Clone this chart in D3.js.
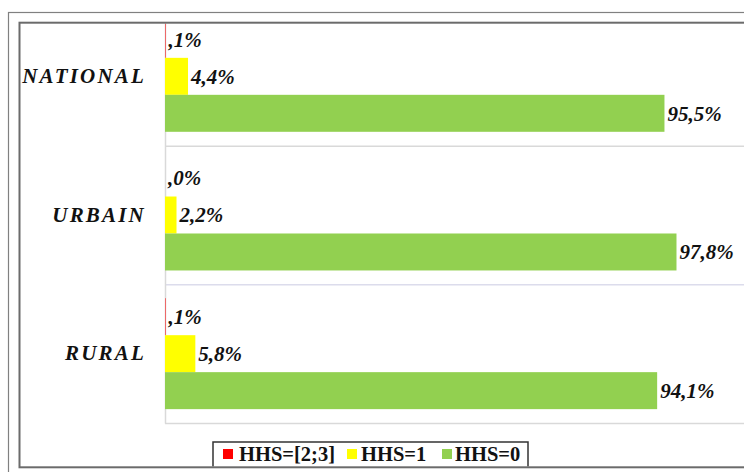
<!DOCTYPE html>
<html>
<head>
<meta charset="utf-8">
<script src="https://cdn.jsdelivr.net/npm/d3@7"></script>
<style>
  html, body { margin: 0; padding: 0; background: #fff; }
  svg { display: block; }
</style>
</head>
<body>
<svg id="chart" width="744" height="472"></svg>
<script>
// ---- data ----
const categories = ["NATIONAL", "URBAIN", "RURAL"];
const seriesNames = ["HHS=[2;3]", "HHS=1", "HHS=0"];
const hhs23 = [0.1, 0.0, 0.1];
const hhs1  = [4.4, 2.2, 5.8];
const hhs0  = [95.5, 97.8, 94.1];
const seriesColors = ["#FF0000", "#FFFF00", "#92D050"];

const seriesValues = [hhs23, hhs1, hhs0];
const fmt = v => (v < 1 ? "," + Math.round(v * 10) : d3.format(".1f")(v).replace(".", ",")) + "%";

const svg = d3.select("#chart");
svg.append("rect").attr("width", 744).attr("height", 472).attr("fill", "#fff");

// clip for chart content (inner frame)
svg.append("defs").append("clipPath").attr("id", "inner")
  .append("rect").attr("x", 20).attr("y", 23.5).attr("width", 740).attr("height", 443);

const g = svg.append("g").attr("clip-path", "url(#inner)");

const x = d3.scaleLinear().domain([0, 100]).range([165, 688]);
const y0 = d3.scaleBand().domain(categories).range([7, 423]).paddingInner(0.2).paddingOuter(0.1);
const y1 = d3.scaleBand().domain(seriesNames).range([0, y0.bandwidth()]);

// category separators (gridlines between categories)
const bounds = d3.range(categories.length + 1).map(i => 7 + i * y0.step());
g.selectAll("line.sep").data(bounds).enter().append("line")
  .attr("class", "sep")
  .attr("x1", 165).attr("x2", 760)
  .attr("y1", d => d + 0.5).attr("y2", d => d + 0.5)
  .attr("stroke", (d, i) => i === 2 ? "#dcdcec" : "#d9d9d9")
  .attr("stroke-width", 1.5);

// category axis
const axis = d3.axisLeft(y0).tickSize(0).tickPadding(19);
const ax = g.append("g").attr("transform", "translate(165,0)").call(axis);
ax.select(".domain").attr("stroke", "#d9d9d9").attr("stroke-width", 1.5);
ax.selectAll("text")
  .attr("font-family", "'Liberation Serif', 'Times New Roman', serif")
  .attr("font-weight", "bold").attr("font-style", "italic")
  .attr("font-size", 21).attr("letter-spacing", 2.2)
  .attr("fill", "#111");

// bars
const groups = g.selectAll("g.cat").data(categories).enter().append("g")
  .attr("class", "cat")
  .attr("transform", d => `translate(0,${y0(d)})`);

groups.each(function(cat, ci) {
  const gg = d3.select(this);
  seriesNames.forEach((s, si) => {
    const v = seriesValues[si][ci];
    gg.append("rect")
      .attr("x", x(0))
      .attr("y", y1(s))
      .attr("width", x(v) - x(0))
      .attr("height", y1.bandwidth())
      .attr("fill", seriesColors[si]);
    gg.append("text")
      .attr("x", x(v) + 3)
      .attr("y", y1(s) + y1.bandwidth() / 2)
      .attr("dy", "0.35em")
      .attr("font-family", "'Liberation Serif', 'Times New Roman', serif")
      .attr("font-weight", "bold").attr("font-style", "italic")
      .attr("font-size", 21)
      .attr("fill", "#111")
      .text(fmt(v));
  });
});

// legend
const lg = g.append("g");
lg.append("rect").attr("x", 213).attr("y", 442).attr("width", 315).attr("height", 40)
  .attr("fill", "#fff").attr("stroke", "#333").attr("stroke-width", 1.5);
const legendX = [223, 347, 442];
const legendTextX = [239, 361, 455];
seriesNames.forEach((s, i) => {
  lg.append("rect").attr("x", legendX[i]).attr("y", 449).attr("width", 10).attr("height", 10)
    .attr("fill", seriesColors[i]);
  lg.append("text").attr("x", legendTextX[i]).attr("y", 454).attr("dy", "0.35em")
    .attr("font-family", "'Liberation Serif', 'Times New Roman', serif")
    .attr("font-weight", "bold").attr("font-size", 20.5).attr("fill", "#111")
    .text(s);
});

// frames
svg.append("rect").attr("x", 8.5).attr("y", 12.5).attr("width", 800).attr("height", 500)
  .attr("fill", "none").attr("stroke", "#808080").attr("stroke-width", 1.2);
svg.append("rect").attr("x", 19.5).attr("y", 22.7).attr("width", 800).attr("height", 444.6)
  .attr("fill", "none").attr("stroke", "#6b6b6b").attr("stroke-width", 2);
</script>
</body>
</html>
